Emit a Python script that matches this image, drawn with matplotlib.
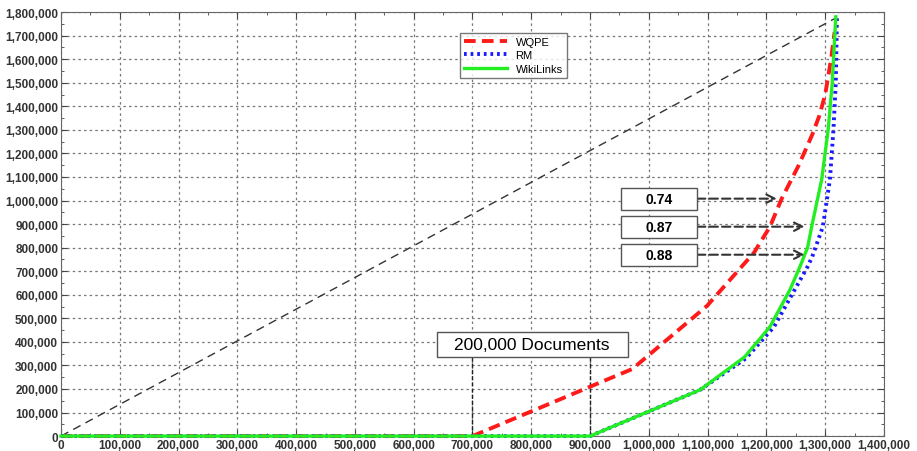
import matplotlib.pyplot as plt
from matplotlib.patches import Rectangle
from matplotlib.ticker import FuncFormatter, MultipleLocator

plt.rcParams['font.family'] = ['Liberation Sans', 'DejaVu Sans']

# curve points (x = documents, y = cumulative count)
wqpe_x = [0, 700000, 972000, 1099000, 1179000, 1206000, 1226000, 1255000, 1278000, 1290000, 1300000, 1310000, 1316000]
wqpe_y = [0, 0, 285000, 553000, 779000, 889000, 1008000, 1150000, 1280000, 1360000, 1450000, 1600000, 1715000]

rm_x = [0, 900000, 1087000, 1165000, 1213000, 1248000, 1270000, 1278000, 1296000, 1308000, 1314000, 1318000, 1320000]
rm_y = [0, 0, 196000, 330000, 464000, 621000, 719000, 762000, 889000, 1089000, 1300000, 1500000, 1780000]

wl_x = [0, 900000, 1087000, 1163000, 1206000, 1240000, 1257000, 1270000, 1277000, 1294000, 1305000, 1312000, 1318000]
wl_y = [0, 0, 196000, 336000, 464000, 621000, 719000, 800000, 889000, 1089000, 1300000, 1500000, 1780000]

diag_x = [0, 1318000]
diag_y = [0, 1775000]

# annotated values and where their arrows point
ratio_labels = ['0.74', '0.87', '0.88']
ratio_y = [1008000, 889000, 770000]
ratio_tip_x = [1218000, 1265000, 1265000]

doc_label = '200,000 Documents'
doc_bounds = [700000, 900000]

fig = plt.figure(figsize=(9.17, 4.52), dpi=100)
ax = fig.add_axes([0.0665, 0.033, 0.8975, 0.938])

ax.plot(diag_x, diag_y, color='#333333', lw=1.0, ls=(0, (6, 4)))
ax.plot(wqpe_x, wqpe_y, color='#ff1a1a', lw=2.8, ls=(0, (3, 1.6)), label='WQPE', clip_on=False, zorder=3)
ax.plot(rm_x, rm_y, color='#1a1aff', lw=2.8, ls=(0, (0.7, 1.0)), label='RM', clip_on=False, zorder=3)
ax.plot(wl_x, wl_y, color='#22ee22', lw=2.4, label='WikiLinks', clip_on=False, zorder=3)

for xb in doc_bounds:
    ax.plot([xb, xb], [0, 340000], color='#222222', lw=1.0, ls=(0, (3, 1.5)))
ax.add_patch(Rectangle((639000, 335000), 325000, 106000, fc='white', ec='#555555', lw=1, zorder=4))
ax.text(801500, 388000, doc_label, ha='center', va='center', fontsize=12.5, zorder=5)

for lab, yv, tip in zip(ratio_labels, ratio_y, ratio_tip_x):
    ax.annotate('', xy=(tip, yv), xytext=(1082000, yv),
                arrowprops=dict(arrowstyle='->', color='#333333', lw=1.5,
                                ls=(0, (4, 2)), mutation_scale=15, shrinkA=0, shrinkB=0))
    ax.add_patch(Rectangle((952000, yv - 46500), 130000, 93000, fc='white', ec='#555555', lw=1, zorder=4))
    ax.text(1017000, yv, lab, ha='center', va='center', fontsize=10, fontweight='bold', zorder=5)

ax.set_xlim(0, 1400000)
ax.set_ylim(0, 1800000)
ax.xaxis.set_major_locator(MultipleLocator(100000))
ax.xaxis.set_minor_locator(MultipleLocator(50000))
ax.yaxis.set_major_locator(MultipleLocator(100000))
ax.yaxis.set_minor_locator(MultipleLocator(50000))
fmt = FuncFormatter(lambda v, p: f'{int(v):,}')
ax.xaxis.set_major_formatter(fmt)
ax.yaxis.set_major_formatter(fmt)
ax.tick_params(which='both', direction='in', top=True, right=True, labelsize=8.5,
               colors='#444444', labelcolor='#333333', pad=2)
ax.tick_params(which='major', length=4)
ax.tick_params(which='minor', length=2.5)
for lab in ax.get_xticklabels() + ax.get_yticklabels():
    lab.set_fontweight('bold')
ax.grid(True, which='major', color='#777777', ls=(0, (2, 2.5)), lw=0.9)
for s in ax.spines.values():
    s.set_color('#666666')

leg = ax.legend(loc='upper left', bbox_to_anchor=(0.478, 0.965), fontsize=8,
                frameon=True, fancybox=False, edgecolor='#555555', handlelength=3.8,
                borderpad=0.4, labelspacing=0.3)
leg.get_frame().set_linewidth(1.0)
leg.set_zorder(6)

fig.savefig('out.png', dpi=100)
